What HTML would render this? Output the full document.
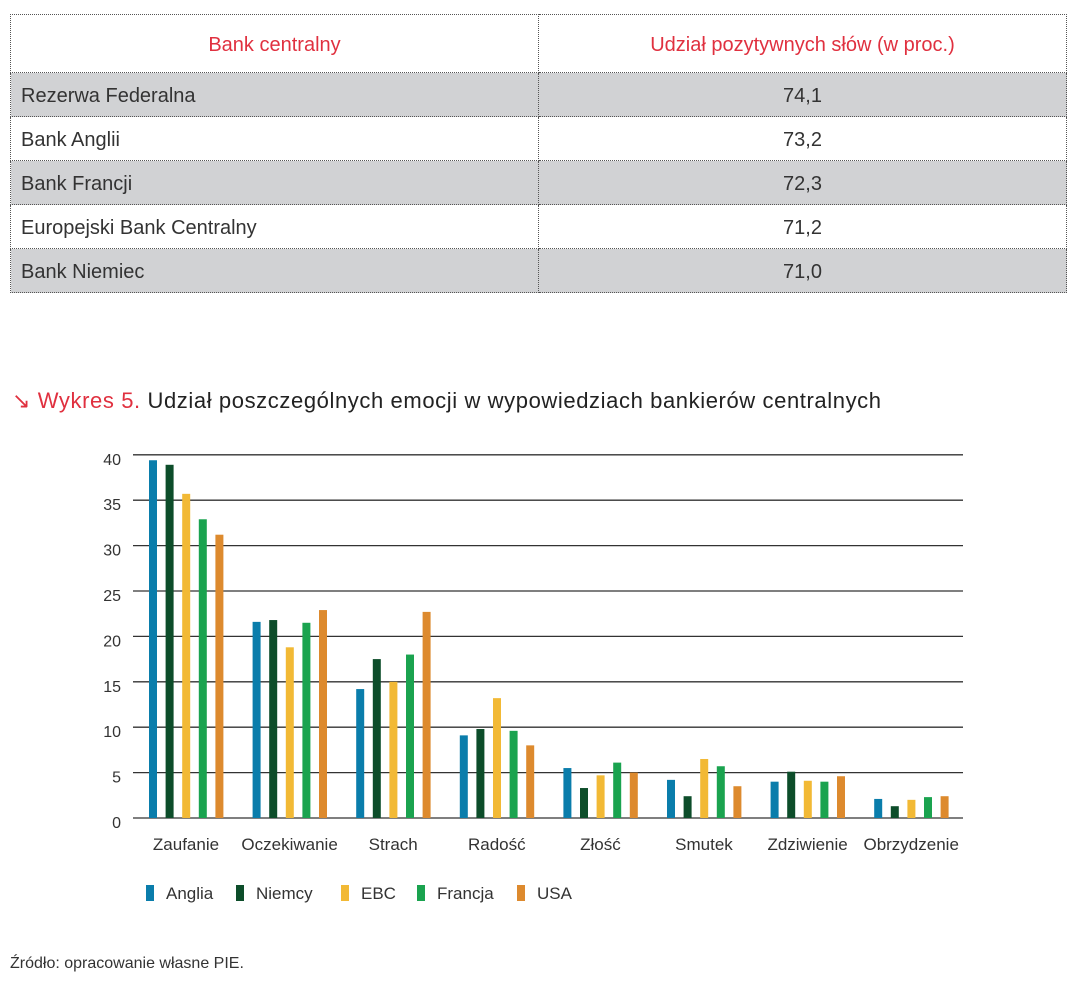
<!DOCTYPE html>
<html><head><meta charset="utf-8"><style>
body{margin:0;background:#fff;font-family:"Liberation Sans",sans-serif;width:1081px;height:990px;position:relative;overflow:hidden}
table{position:absolute;left:10px;top:14px;width:1057px;border-collapse:collapse}
td{border:1px dotted #555;font-size:20px;color:#333;padding:3px 10px 0 10px;height:40px}
tr.h td{height:54px;color:#e0303f;text-align:center}
tr.g td{background:#d1d2d4}
td.v{text-align:center}
.t{position:absolute;left:12px;top:388px;font-size:22px;color:#222;letter-spacing:0.6px}
.t span{color:#e0303f}
.src{position:absolute;left:10px;top:955px;font-size:16px;color:#333}
</style></head><body>
<table>
<tr class="h"><td style="width:507px">Bank centralny</td><td>Udział pozytywnych słów (w proc.)</td></tr>
<tr class="g"><td>Rezerwa Federalna</td><td class="v">74,1</td></tr>
<tr><td>Bank Anglii</td><td class="v">73,2</td></tr>
<tr class="g"><td>Bank Francji</td><td class="v">72,3</td></tr>
<tr><td>Europejski Bank Centralny</td><td class="v">71,2</td></tr>
<tr class="g"><td>Bank Niemiec</td><td class="v">71,0</td></tr>
</table>
<div class="t"><span>↘ Wykres 5.</span> Udział poszczególnych emocji w wypowiedziach bankierów centralnych</div>
<svg width="1081" height="990" style="position:absolute;left:0;top:0" font-family="Liberation Sans, sans-serif">
<g id="c"></g>
</svg>
<div class="src">Źródło: opracowanie własne PIE.</div>
<script>
var s='';var base=818,k=9.08;
for(var i=0;i<=8;i++){var y=base-i*5*k;s+='<line x1="133" x2="963" y1="'+y+'" y2="'+y+'" stroke="#333" stroke-width="1.3"/>';s+='<text x="121" y="'+(y+10)+'" font-size="16" fill="#333" text-anchor="end">'+(i*5)+'</text>';}
var cols=['#0a7dab','#0d4d2a','#f2b935','#1aa34f','#dd8a2e'];
var d=[[39.4,38.9,35.7,32.9,31.2],[21.6,21.8,18.8,21.5,22.9],[14.2,17.5,15,18,22.7],[9.1,9.8,13.2,9.6,8.0],[5.5,3.3,4.7,6.1,5.0],[4.2,2.4,6.5,5.7,3.5],[4.0,5.1,4.1,4.0,4.6],[2.1,1.3,2.0,2.3,2.4]];
var n=['Zaufanie','Oczekiwanie','Strach','Radość','Złość','Smutek','Zdziwienie','Obrzydzenie'];
for(var g=0;g<8;g++){var x0=149+g*103.6;for(var j=0;j<5;j++){var h=d[g][j]*k;s+='<rect x="'+(x0+j*16.6)+'" y="'+(base-h)+'" width="8" height="'+h+'" fill="'+cols[j]+'"/>';}
s+='<text x="'+(x0+37)+'" y="850" font-size="17" fill="#333" text-anchor="middle">'+n[g]+'</text>';}
var L=['Anglia','Niemcy','EBC','Francja','USA'],lx=[146,236,341,417,517];
for(var j=0;j<5;j++){s+='<rect x="'+lx[j]+'" y="885" width="8" height="16" fill="'+cols[j]+'"/><text x="'+(lx[j]+20)+'" y="899" font-size="17" fill="#333">'+L[j]+'</text>';}
document.getElementById('c').innerHTML=s;
</script>
</body></html>
